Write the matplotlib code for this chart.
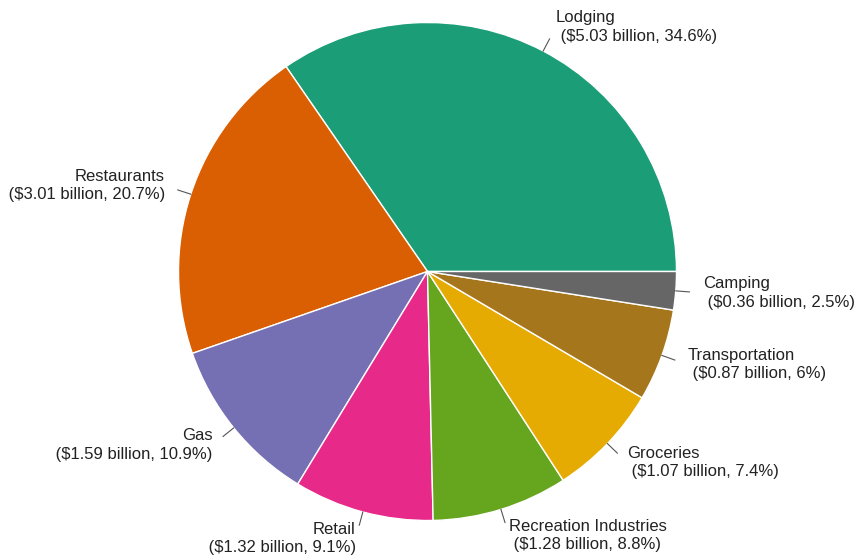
import numpy as np
import matplotlib
matplotlib.use("Agg")
import matplotlib.pyplot as plt

categories = ["Lodging", "Restaurants", "Gas", "Retail", "Recreation Industries",
              "Groceries", "Transportation", "Camping"]
billions = [5.03, 3.01, 1.59, 1.32, 1.28, 1.07, 0.87, 0.36]
percents = ["34.6%", "20.7%", "10.9%", "9.1%", "8.8%", "7.4%", "6%", "2.5%"]
colors = ["#1b9e77", "#d95f02", "#7570b3", "#e7298a", "#66a61e",
          "#e6ab02", "#a6761d", "#666666"]

plt.rcParams['font.family'] = ['Liberation Sans', 'DejaVu Sans']

W, H = 863, 555
fig = plt.figure(figsize=(W / 100, H / 100), dpi=100)
cx, cy, r = 427.5, 271.5, 249.0
ax = fig.add_axes([(cx - r) / W, (H - cy - r) / H, 2 * r / W, 2 * r / H])

wedges, _ = ax.pie(billions, colors=colors, startangle=0, counterclock=True,
                   radius=1.0, center=(0, 0), normalize=True,
                   wedgeprops=dict(edgecolor="white", linewidth=1.0))
ax.set_xlim(-1, 1)
ax.set_ylim(-1, 1)
ax.axis("off")

for w, cat, b, p in zip(wedges, categories, billions, percents):
    ang = np.deg2rad((w.theta1 + w.theta2) / 2)
    c, s = np.cos(ang), np.sin(ang)
    ax.plot([c * 1.0, c * 1.055], [s * 1.0, s * 1.055], color="#555555",
            lw=0.8, clip_on=False)
    ha = "left" if c >= 0 else "right"
    label = f"{cat}\n (${b:.2f} billion, {p})"
    ax.text(c * 1.11, s * 1.11, label, ha=ha, va="center", fontsize=12,
            color="#222222", linespacing=1.3, clip_on=False)

fig.savefig("out.png", dpi=100)
